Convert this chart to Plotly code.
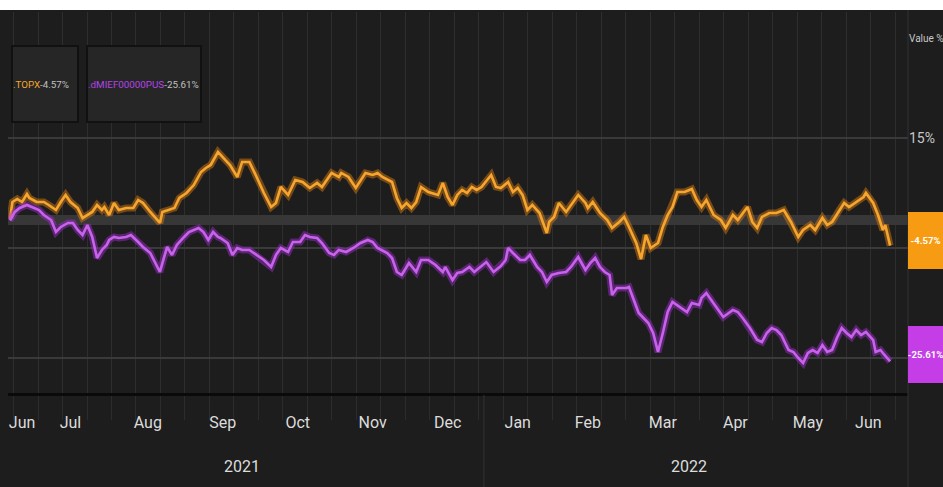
import pandas as pd
import plotly.graph_objects as go

# ---------------- data ----------------
start_date = "2021-06-14"
series_names = [".TOPX", ".dMIEF00000PUS"]
last_values = [-4.57, -25.61]

topx_day = [0, 1, 3, 5, 7, 8, 11, 14, 16, 19,
            21, 23, 25, 28, 30, 32, 34, 36, 38, 39,
            41, 43, 45, 48, 51, 53, 55, 58, 60, 62,
            63, 66, 68, 70, 73, 76, 79, 81, 83, 86,
            87, 89, 91, 94, 96, 99, 102, 105, 108, 110,
            112, 115, 118, 121, 124, 127, 129, 133, 136, 137,
            140, 143, 147, 150, 152, 154, 158, 160, 162, 164,
            166, 168, 170, 173, 177, 179, 181, 183, 185, 187,
            189, 191, 193, 195, 199, 201, 203, 206, 208, 210,
            212, 214, 216, 219, 222, 223, 225, 227, 230, 232,
            235, 238, 239, 241, 244, 247, 249, 252, 254, 256,
            259, 261, 263, 265, 268, 270, 272, 274, 276, 279,
            282, 284, 286, 288, 291, 294, 296, 299, 301, 305,
            307, 309, 311, 314, 317, 320, 323, 326, 328, 331,
            333, 336, 338, 340, 343, 345, 347, 350, 353, 354,
            357, 359, 361, 362, 364]
topx_pct = [0.3, 3.36, 3.91, 3.36, 4.82, 4.09, 3.36, 3.36, 2.82, 1.91,
            3.36, 4.64, 3.36, 2.27, 0.45, 1.0, 1.55, 2.82, 1.91, 2.45,
            1.0, 3.18, 1.91, 2.27, 2.27, 3.73, 3.18, 1.55, 0.64, -0.45,
            1.55, 1.91, 2.27, 4.09, 5.0, 6.45, 8.82, 9.55, 10.09, 12.45,
            11.91, 11.0, 10.09, 7.91, 10.64, 10.64, 7.91, 5.0, 2.45, 3.18,
            6.09, 4.64, 7.36, 7.0, 5.91, 6.82, 6.09, 8.64, 7.91, 8.64,
            7.91, 5.91, 8.64, 8.27, 8.64, 7.91, 7.0, 4.09, 2.27, 3.18,
            2.27, 3.36, 6.09, 5.18, 4.64, 6.82, 4.27, 2.82, 4.64, 5.55,
            5.0, 6.09, 5.55, 6.09, 8.27, 6.09, 5.91, 7.0, 5.18, 5.91,
            4.64, 1.91, 2.82, 1.36, -2.27, -0.27, 0.64, 3.18, 1.55, 2.82,
            4.64, 3.18, 2.27, 3.36, 1.36, 0.09, -1.36, -0.27, 0.64, -1.18,
            -4.09, -7.0, -2.64, -5.0, -4.09, -1.18, 1.0, 2.45, 5.18, 5.18,
            5.73, 3.73, 2.45, 3.73, 1.0, 0.09, -1.36, 1.0, 0.09, 2.45,
            -0.27, -1.36, 0.64, 1.36, 1.36, 1.91, -0.27, -3.0, -1.73, -0.82,
            -1.73, 0.45, -0.82, -0.27, 1.91, 3.18, 2.45, 3.36, 4.27, 5.0,
            3.18, 1.0, -1.73, -0.82, -4.57]

mief_day = [0, 2, 4, 7, 9, 12, 14, 17, 19, 21,
            24, 26, 28, 30, 32, 34, 36, 38, 40, 41,
            43, 45, 48, 50, 53, 55, 58, 60, 62, 64,
            65, 67, 69, 72, 74, 78, 80, 82, 84, 86,
            87, 90, 92, 94, 96, 99, 102, 105, 108, 110,
            112, 115, 117, 120, 122, 124, 127, 129, 132, 134,
            136, 139, 142, 145, 148, 150, 152, 156, 158, 160,
            162, 165, 168, 170, 173, 176, 179, 180, 183, 185,
            187, 190, 192, 194, 197, 200, 203, 205, 206, 208,
            211, 213, 215, 218, 220, 222, 224, 227, 230, 232,
            235, 238, 240, 242, 244, 246, 248, 249, 251, 255,
            256, 258, 260, 262, 264, 266, 268, 270, 272, 274,
            277, 280, 282, 285, 286, 288, 290, 292, 295, 299,
            301, 303, 306, 309, 311, 313, 315, 317, 319, 322,
            324, 326, 328, 330, 332, 334, 336, 338, 340, 342,
            344, 346, 348, 350, 352, 354, 357, 358, 360, 361,
            364]
mief_pct = [0.0, 1.55, 2.27, 2.82, 2.45, 1.91, 1.0, 0.09, -2.09, -1.18,
            -0.45, -0.45, -1.73, -2.64, -0.82, -3.0, -6.82, -5.36, -4.45, -3.55,
            -3.0, -3.18, -3.0, -2.64, -3.91, -4.82, -5.91, -7.73, -9.36, -6.27,
            -4.82, -6.27, -4.45, -3.0, -2.09, -1.36, -2.09, -3.55, -2.09, -3.0,
            -3.18, -4.09, -6.27, -5.0, -5.36, -5.36, -6.27, -7.18, -8.45, -6.27,
            -5.0, -5.73, -3.91, -3.91, -2.64, -3.0, -3.18, -4.09, -5.91, -6.27,
            -5.36, -5.73, -5.0, -4.09, -3.55, -3.91, -5.0, -5.91, -6.82, -9.36,
            -9.91, -7.73, -9.36, -7.18, -7.18, -8.09, -9.36, -8.45, -10.82, -9.55,
            -9.36, -8.45, -9.36, -8.64, -7.55, -9.36, -8.27, -7.18, -5.0, -5.91,
            -7.18, -7.18, -6.27, -8.45, -9.36, -11.18, -9.91, -9.55, -9.36, -8.45,
            -6.64, -9.0, -7.73, -6.82, -8.45, -9.36, -9.91, -13.55, -12.27, -12.27,
            -12.09, -14.45, -16.82, -17.73, -18.64, -20.45, -23.91, -20.45, -16.64, -14.82,
            -15.73, -16.64, -15.0, -15.36, -14.09, -13.18, -14.45, -15.73, -17.55, -16.27,
            -16.64, -17.73, -19.55, -21.73, -22.09, -20.45, -19.55, -19.91, -20.82, -23.55,
            -23.91, -25.0, -25.91, -24.09, -23.55, -24.09, -22.64, -23.91, -23.55, -21.36,
            -19.55, -20.45, -21.18, -19.91, -20.82, -20.27, -21.73, -23.91, -23.55, -24.09,
            -25.61]

month_tick_dates = ["2021-06-19", "2021-07-09", "2021-08-10", "2021-09-10",
                    "2021-10-11", "2021-11-11", "2021-12-12", "2022-01-10",
                    "2022-02-08", "2022-03-11", "2022-04-10", "2022-05-10",
                    "2022-06-04"]
month_labels = ["Jun", "Jul", "Aug", "Sep", "Oct", "Nov", "Dec",
                "Jan", "Feb", "Mar", "Apr", "May", "Jun"]
year_label_dates = ["2021-09-18", "2022-03-22"]
year_labels = ["2021", "2022"]
year_divider_date = "2021-12-27"
y_tick_vals = [15, -5, -25]
y_tick_text = ["15%", "", ""]   # the other two are hidden behind the value boxes

assert len(topx_day) == len(topx_pct), (len(topx_day), len(topx_pct))
assert len(mief_day) == len(mief_pct), (len(mief_day), len(mief_pct))

# ---------------- styling ----------------
W, H = 943, 487
ML, MR, MT, MB = 8, 35, 12, 94
PW, PH = W - ML - MR, H - MT - MB
BG = "#1d1d1d"
ORANGE = "#f6a62e"
ORANGE_BOX = "#f79c12"
PURPLE = "#c862ea"
PURPLE_BOX = "#c43de6"
FONT = "Roboto, sans-serif"

t0 = pd.Timestamp(start_date)
topx_x = t0 + pd.to_timedelta(topx_day, unit="D")
mief_x = t0 + pd.to_timedelta(mief_day, unit="D")
x_range = [t0 - pd.Timedelta(hours=20), t0 + pd.Timedelta(days=371.4)]
grid_tick0 = t0 + pd.Timedelta(days=11.58)
grid_dtick_ms = 10.13 * 86400000


def py(px):
    """pixel row -> paper y"""
    return (H - MB - px) / PH


def pxx(px):
    """pixel column -> paper x"""
    return (px - ML) / PW


fig = go.Figure()

# glow + core for each series
for xs, ys, col, glow in [(topx_x, topx_pct, ORANGE, "rgba(205,120,20,0.5)"),
                          (mief_x, mief_pct, PURPLE, "rgba(150,45,195,0.5)")]:
    fig.add_trace(go.Scatter(x=xs, y=ys, mode="lines",
                             line=dict(color=glow, width=7),
                             hoverinfo="skip", showlegend=False))
    fig.add_trace(go.Scatter(x=xs, y=ys, mode="lines",
                             line=dict(color=col, width=2.6),
                             showlegend=False))

# dummy trace to activate the label axis
fig.add_trace(go.Scatter(x=[month_tick_dates[0]], y=[None], xaxis="x2",
                         mode="lines", showlegend=False, hoverinfo="skip"))

fig.update_layout(
    width=W, height=H,
    margin=dict(l=ML, r=MR, t=MT, b=MB),
    paper_bgcolor=BG, plot_bgcolor=BG,
    showlegend=False,
    font=dict(family=FONT, color="#d0d0d0"),
    xaxis=dict(
        type="date", range=x_range,
        tick0=grid_tick0, dtick=grid_dtick_ms,
        showgrid=True, gridcolor="#2e2e2e", gridwidth=1,
        showticklabels=False,
        ticks="outside", ticklen=24, tickcolor="#2c2c2c", tickwidth=1,
        showline=True, linecolor="#0a0a0a", linewidth=3,
        zeroline=False, fixedrange=True,
    ),
    xaxis2=dict(
        type="date", range=x_range, overlaying="x", anchor="y", side="bottom",
        tickmode="array", tickvals=month_tick_dates, ticktext=month_labels,
        showgrid=False, zeroline=False, showline=False,
        ticks="outside", ticklen=15, tickcolor="rgba(0,0,0,0)",
        tickfont=dict(family=FONT, size=16, color="#dcdcdc"),
    ),
    yaxis=dict(
        side="right", range=[-31.36, 37.9],
        tickmode="array", tickvals=y_tick_vals, ticktext=y_tick_text,
        showgrid=True, gridcolor="#3a3a3a", gridwidth=2,
        zeroline=True, zerolinecolor="#373737", zerolinewidth=10,
        showline=False, ticks="",
        tickfont=dict(family=FONT, size=14, color="#c8c8c8"),
    ),
)

shapes = [
    # white strip at the very top (title area)
    dict(type="rect", xref="paper", yref="paper", x0=-0.02, x1=1.05,
         y0=py(10), y1=py(-2), fillcolor="white", line=dict(width=0), layer="above"),
    # right separator
    dict(type="line", xref="paper", yref="paper", x0=1, x1=1,
         y0=py(H), y1=py(10), line=dict(color="#333333", width=1)),
    # year divider in the axis area
    dict(type="line", xref="x", yref="paper", x0=year_divider_date, x1=year_divider_date,
         y0=py(H), y1=py(395), line=dict(color="#333333", width=1)),
]
fig.update_layout(shapes=shapes)

ann = []
# legend chips
chip_specs = [(11, 79, series_names[0], ORANGE, last_values[0]),
              (86, 202, series_names[1], "#b444ea", last_values[1])]
for x0, x1, name, col, val in chip_specs:
    ann.append(dict(
        xref="paper", yref="paper", x=pxx(x0), y=py(84),
        xanchor="left", yanchor="middle", showarrow=False,
        text=f"<span style='color:{col}'>{name}</span>{val:.2f}%",
        font=dict(family=FONT, size=9.8, color="#c0c0c0"),
        width=x1 - x0 - 4, height=74, align="left",
        bgcolor="#262626", bordercolor="#111111", borderwidth=2, borderpad=0,
    ))
# last-value boxes on the right
for val, col, shift in [(last_values[0], ORANGE_BOX, 5), (last_values[1], PURPLE_BOX, 7)]:
    ann.append(dict(
        xref="paper", yref="y", x=1, y=val, yshift=shift,
        xanchor="left", yanchor="middle", showarrow=False,
        text=f"<b>{val:.2f}%</b>",
        font=dict(family=FONT, size=9.5, color="#ffffff"),
        width=35, height=57, align="center",
        bgcolor=col, borderpad=0, borderwidth=0,
    ))
# axis title on right, kept inside the right edge
ann.append(dict(xref="paper", yref="paper", x=pxx(908), y=py(39),
                xanchor="left", yanchor="middle", showarrow=False,
                text="Value %", font=dict(family=FONT, size=10, color="#c8c8c8"),
                borderpad=0))
# year labels
for d, lab in zip(year_label_dates, year_labels):
    ann.append(dict(xref="x", yref="paper", x=d, y=py(466),
                    xanchor="center", yanchor="middle", showarrow=False,
                    text=lab, font=dict(family=FONT, size=16, color="#dcdcdc")))
fig.update_layout(annotations=ann)

fig.write_html("out.html")
